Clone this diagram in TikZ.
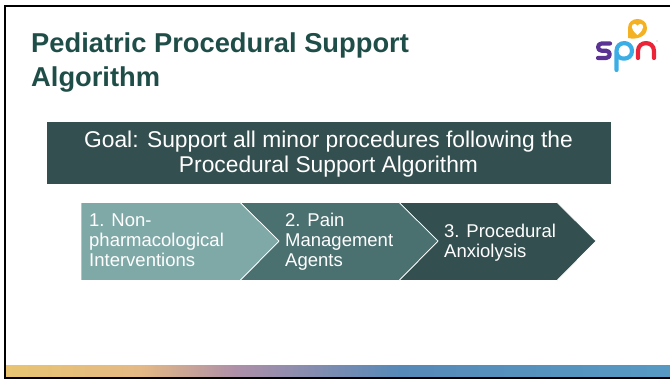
\documentclass[tikz,border=0pt]{standalone}
\usepackage{fontspec}
\setmainfont{Liberation Sans}
\definecolor{titlec}{HTML}{1F4E48}
\definecolor{goalc}{HTML}{344F4F}
\definecolor{chevA}{HTML}{7FA9A7}
\definecolor{chevB}{HTML}{4B7070}
\definecolor{chevC}{HTML}{344F4F}
\definecolor{barA}{HTML}{E8C472}
\definecolor{barB}{HTML}{E5B985}
\definecolor{barC}{HTML}{AE8FA8}
\definecolor{barD}{HTML}{5689B8}
\definecolor{barE}{HTML}{569AC4}
\definecolor{spnP}{HTML}{5B3393}
\definecolor{spnB}{HTML}{3AAEE5}
\definecolor{spnR}{HTML}{EC2437}
\definecolor{spnY}{HTML}{F4B223}
\tikzset{
  chevlabel/.style={text=white,font=\fontsize{18.5}{19.8}\selectfont,align=left,anchor=west,inner sep=0pt},
  chevshape/.style={draw=white,line width=0.7pt},
  logostroke/.style={line width=4.2pt,line cap=round,line join=round}
}
\begin{document}
\begin{tikzpicture}[x=1pt,y=-1pt]
\useasboundingbox (0,0) rectangle (670,379);
% gradient bar
\shade[left color=barA,right color=barB] (5,365.5) rectangle (140,378);
\shade[left color=barB,right color=barC] (140,365.5) rectangle (235,378);
\shade[left color=barC,right color=barD] (235,365.5) rectangle (400,378);
\shade[left color=barD,right color=barE] (400,365.5) rectangle (670,378);
% slide border
\draw[black,line width=1.8pt] (670,6) -- (5,6) -- (5,378) -- (670,378);
% title
\node[anchor=west,inner sep=0pt,align=left,text=titlec,font=\bfseries\fontsize{27.3}{34}\selectfont] (title) at (31,63) {Pediatric Procedural Support\\Algorithm};
% goal
\fill[goalc] (47,122) rectangle (611,184);
\node[inner sep=0pt,text=white,align=center,font=\fontsize{22.8}{25}\selectfont] (goal) at (328.5,154.5) {Goal: Support all minor procedures following the\\Procedural Support Algorithm};
% chevrons
\path[fill=chevC,chevshape] (399,202.5) -- (557,202.5) -- (596,241) -- (557,280.5) -- (399,280.5) -- (438,241) -- cycle;
\path[fill=chevB,chevshape] (240,202.5) -- (399,202.5) -- (438,241) -- (399,280.5) -- (240,280.5) -- (279,241) -- cycle;
\path[fill=chevA,chevshape] (81,202.5) -- (240,202.5) -- (279,241) -- (240,280.5) -- (81,280.5) -- cycle;
\node[chevlabel] (stepa) at (89,240.5) {1. Non-\\pharmacological\\Interventions};
\node[chevlabel] (stepb) at (285,242) {2. Pain\\Management\\Agents};
\node[chevlabel] (stepc) at (444,242.5) {3. Procedural\\Anxiolysis};
% logo
\draw[logostroke,spnP] (610,43.5) -- (601.5,43.5) .. controls (597,43.5) and (597,50.7) .. (601.5,50.7) -- (606,50.7) .. controls (611,50.7) and (611,58) .. (606,58) -- (598,58);
\draw[logostroke,spnB] (616.5,70) -- (616.5,51) .. controls (616.5,40.5) and (632,40.5) .. (632,51) .. controls (632,61) and (616.5,61) .. (616.5,52);
\draw[logostroke,spnR] (638,58) -- (638,51) .. controls (638,40.5) and (654,40.5) .. (654,51) -- (654,58);
\fill[spnY] (628,38) -- (628,28) .. controls (628,16) and (647,16) .. (647,28) .. controls (647,37) and (636,40) .. (628,38) -- cycle;
\fill[white] (637.5,35) .. controls (630,29) and (631,24) .. (634.5,24) .. controls (636,24) and (637,25) .. (637.5,26) .. controls (638,25) and (639,24) .. (640.5,24) .. controls (644,24) and (645,29) .. (637.5,35) -- cycle;
\fill[gray!70] (657,41) circle (0.7);
\end{tikzpicture}
\end{document}
